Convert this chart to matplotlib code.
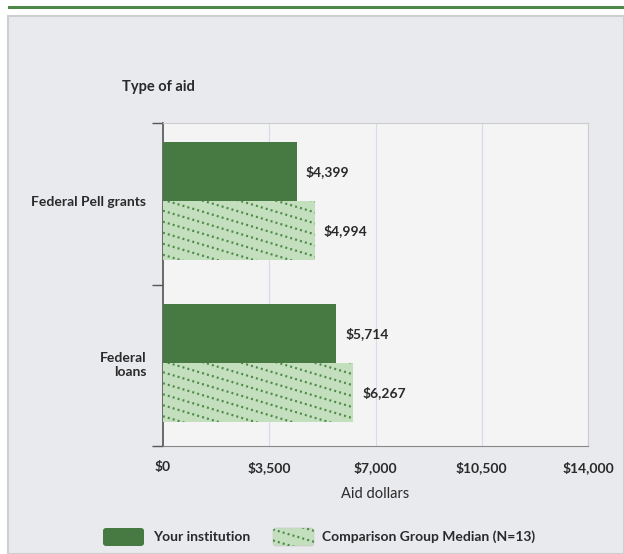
import matplotlib.pyplot as plt
from matplotlib.patches import Rectangle, FancyBboxPatch
from matplotlib.lines import Line2D
import numpy as np

## data
categories = ["Federal Pell grants", "Federal\nloans"]
your_inst = [4399, 5714]
comparison = [4994, 6267]
xticks = [0, 3500, 7000, 10500, 14000]

dark = "#477a43"
light = "#c4dfbe"
dot_col = "#4f8a4a"
txt = "#2a2a2a"
plt.rcParams['font.family'] = ['Lato', 'DejaVu Sans']
fs = 10

W, H = 624, 554
fig = plt.figure(figsize=(W / 100, H / 100), dpi=100)
fig.patch.set_facecolor("white")

def px(x, y):
    return x / W, 1 - y / H

def dotted_hatch(patch, x_a, x_b, y_a, y_b):
    # shallow dotted diagonals (pixel coords) clipped to the patch
    drop = 0.3 * (x_b - x_a + 10)
    for y in np.arange(y_a - 4, y_b + drop + 11, 11):
        ln = Line2D([x_a - 5, x_b + 5], [y, y - drop],
                    transform=None, color=dot_col, linewidth=1.6,
                    linestyle=(0, (0.9, 1.4)), zorder=4)
        ln.set_clip_path(patch)
        fig.add_artist(ln)

## top green rule and grey panel
fig.patches.append(Rectangle(px(8, 9), (W - 8) / W, 3 / H, transform=fig.transFigure,
                             facecolor="#4d8a4a", edgecolor="none", zorder=-2))
fig.patches.append(Rectangle(px(8, 554), (W - 8) / W, (554 - 16) / H, transform=fig.transFigure,
                             facecolor="#e9eaee", edgecolor="#cfcfcf", linewidth=1.5,
                             zorder=-2))

## axes
x0, x1, y0, y1 = 163, 588, 123, 446
ax = fig.add_axes([x0 / W, 1 - y1 / H, (x1 - x0) / W, (y1 - y0) / H])
ax.set_facecolor("#f4f4f5")
ax.set_xlim(0, 14000)
ax.set_ylim(2, 0)

pos = np.arange(len(categories)) + 0.485
h = 0.365
ax.barh(pos - h / 2, your_inst, height=h, color=dark, edgecolor="none", zorder=3)
hb = ax.barh(pos + h / 2, comparison, height=h, color=light, edgecolor="none", zorder=3)

for p, v in zip(pos - h / 2, your_inst):
    ax.text(v + 300, p, f"${v:,}", va="center", ha="left", fontsize=fs,
            fontweight="bold", color=txt)
for p, v in zip(pos + h / 2, comparison):
    ax.text(v + 300, p, f"${v:,}", va="center", ha="left", fontsize=fs,
            fontweight="bold", color=txt)

ax.set_xticks(xticks)
ax.set_xticklabels([f"${t:,}" for t in xticks], fontsize=fs, fontweight="bold",
                   color=txt)
ax.tick_params(axis="x", length=0, pad=11)
ax.grid(axis="x", color="#d5dbe8", linewidth=0.8, zorder=0)

ax.set_yticks([0, 1, 2], minor=False)
ax.set_yticklabels([])
ax.tick_params(axis="y", which="major", length=8, width=1, color="#555555")
ax.set_yticks(pos, minor=True)
ax.set_yticklabels(categories, minor=True, fontsize=fs, fontweight="bold",
                   color=txt, ha="right", multialignment="right")
ax.tick_params(axis="y", which="minor", length=0, pad=12)

for s in ["top", "right"]:
    ax.spines[s].set_color("#cccccc")
ax.spines["left"].set_color("#555555")
ax.spines["left"].set_linewidth(1.2)
ax.spines["bottom"].set_color("#888888")

ax.set_xlabel("Aid dollars", fontsize=fs + 0.5, color=txt, labelpad=9)
fig.text(122 / W, 1 - 87 / H, "Type of aid", fontsize=fs + 0.5, fontweight="bold",
         color=txt, va="center")

## dotted hatching on comparison bars
fig.canvas.draw()
for bar in hb:
    bb = bar.get_window_extent()
    dotted_hatch(bar, bb.x0, bb.x1, bb.y0, bb.y1)

## legend
ly = 537
fig.patches.append(FancyBboxPatch(px(103, ly + 9), 41 / W, 18 / H, transform=fig.transFigure,
                                  boxstyle="round,pad=0,rounding_size=0.005",
                                  facecolor=dark, edgecolor="none"))
fig.text(153 / W, 1 - ly / H, "Your institution", fontsize=fs, fontweight="bold",
         color=txt, va="center")
lp = FancyBboxPatch(px(273, ly + 9), 41 / W, 18 / H, transform=fig.transFigure,
                    boxstyle="round,pad=0,rounding_size=0.005",
                    facecolor=light, edgecolor="#c8c8c8", linewidth=0.5)
fig.patches.append(lp)
dotted_hatch(lp, 273, 314, H - ly - 9, H - ly + 9)
fig.text(322 / W, 1 - ly / H, "Comparison Group Median (N=13)", fontsize=fs,
         fontweight="bold", color=txt, va="center")

fig.savefig("out.png", dpi=100)
